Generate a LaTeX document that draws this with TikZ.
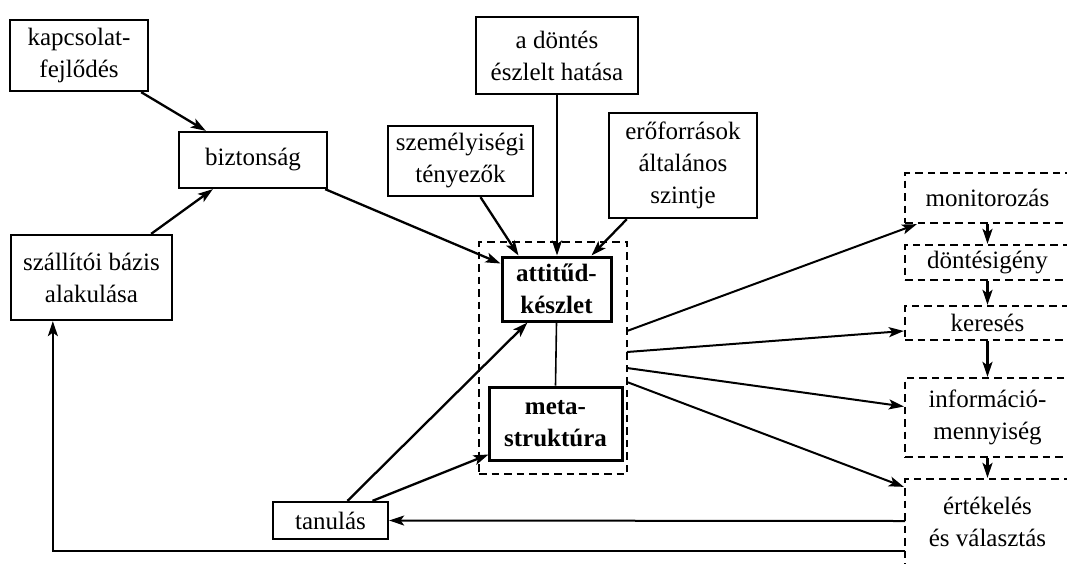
\documentclass[tikz,border=0pt]{standalone}
\usepackage{fontspec}
\setmainfont{Liberation Serif}
\usetikzlibrary{arrows.meta,calc}
\newcommand{\diagfont}{\fontsize{25}{32}\selectfont}
\begin{document}
\begin{tikzpicture}[x=1pt,y=-1pt,
  box/.style={draw, line width=2.3pt, align=center, inner sep=0pt, font=\diagfont},
  boldbox/.style={box, line width=3pt, font=\diagfont\bfseries},
  dbox/.style={box, dash pattern=on 7.5pt off 5pt},
  arr/.style={line width=2.3pt, -{Stealth[length=15pt,width=10pt,inset=3.5pt]}},
  thinarr/.style={line width=2pt, -{Stealth[length=15pt,width=10pt,inset=3.5pt]}}]
\clip (0,0) rectangle (1067,563);
\fill[white] (0,0) rectangle (1067,563);

% left-hand boxes
\node[box, minimum width=138pt, minimum height=71pt] (kap) at (79,55.5) {kapcsolat-\\fejlődés};
\node[box, minimum width=148pt, minimum height=56pt] (bizt) at (253,160) {biztonság};
\node[box, minimum width=161pt, minimum height=85pt] (szall) at (91.5,277.5) {szállítói bázis\\alakulása};
\node[box, minimum width=115pt, minimum height=37pt] (tan) at (330.5,520.5) {tanulás};

% influences from above
\node[box, minimum width=162pt, minimum height=77pt] (dont) at (557,55.5) {a döntés\\észlelt hatása};
\node[box, minimum width=145pt, minimum height=70pt] (szem) at (460.5,161) {személyiségi\\tényezők};
\node[box, minimum width=148pt, minimum height=105pt] (ero) at (683,165.5) {erőforrások\\általános\\szintje};

% central pair inside a dashed frame
\node[boldbox, minimum width=109pt, minimum height=64pt] (att) at (556.5,289) {attitűd-\\készlet};
\node[boldbox, minimum width=133pt, minimum height=73pt] (meta) at (555.5,423.5) {meta-\\struktúra};
\node[dbox, minimum width=148pt, minimum height=232pt] (frame) at (553,358) {};
\draw[line width=1.6pt] (att.south) -- (meta.north);

% decision steps on the right
\node[dbox, minimum width=165pt, minimum height=50pt] (mon) at (987.5,198) {monitorozás};
\node[dbox, minimum width=165pt, minimum height=35pt] (dig) at (987.5,262.5) {döntésigény};
\node[dbox, minimum width=165pt, minimum height=34pt] (ker) at (987.5,323) {keresés};
\node[dbox, minimum width=165pt, minimum height=79pt] (inf) at (987.5,417.5) {információ-\\mennyiség};
\node[dbox, minimum width=165pt, minimum height=86pt] (ert) at (987.5,522) {értékelés\\és választás};

\foreach \a/\b in {mon/dig, dig/ker, ker/inf, inf/ert}
  \draw[arr] (\a.south) -- (\b.north);

% arrows into the left part
\draw[arr] ($(kap.south east)+(-8,0)$) -- ($(bizt.north west)+(28,0)$);
\draw[arr] ($(szall.north east)+(-22,0)$) -- ($(bizt.south west)+(35,0)$);

% arrows into the attitude set
\draw[arr] ($(bizt.south east)+(-3,0)$) -- ($(att.north west)+(0,8)$);
\draw[arr] ($(szem.south)+(20,0)$) -- ($(att.north west)+(18,0)$);
\draw[arr] (dont.south) -- (dont.south |- att.north);
\draw[arr] ($(ero.south west)+(19,0)$) -- ($(att.north east)+(-21,0)$);
\draw[arr] ($(tan.north)+(17,0)$) -- ($(att.south)+(-29,0)$);
\draw[arr] ($(tan.north)+(42,0)$) -- ($(meta.south west)+(1,-7)$);

% arrows from the frame to the steps
\coordinate (o1) at (627,331);
\coordinate (o2) at (627,352);
\coordinate (o3) at (627,368);
\coordinate (o4) at (627,382);
\draw[thinarr] (o1) -- ($(mon.south west)+(13,0)$);
\draw[thinarr] (o2) -- ($(ker.west)+(0,8)$);
\draw[thinarr] (o3) -- ($(inf.west)+(0,-11)$);
\draw[thinarr] (o4) -- ($(ert.north west)+(0,9)$);

% feedback from evaluation
\coordinate (f1) at (905,521);
\coordinate (f2) at (905,551);
\draw[thinarr] (f1) -- (tan.east);
\draw[thinarr] (f2) -| ($(szall.south west)+(43,0)$);
\end{tikzpicture}
\end{document}
